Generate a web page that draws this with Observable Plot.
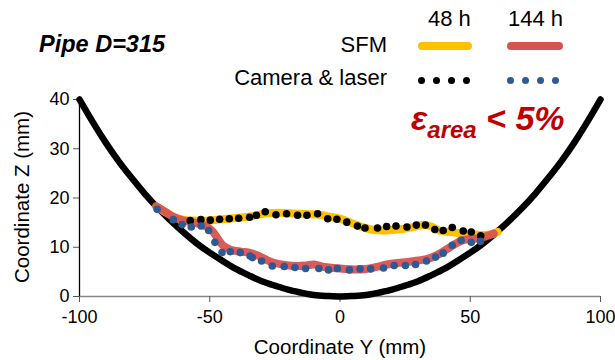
<!DOCTYPE html>
<html>
<head>
<meta charset="utf-8">
<script src="https://cdn.jsdelivr.net/npm/d3@7"></script>
<script src="https://cdn.jsdelivr.net/npm/@observablehq/plot@0.6"></script>
<style>
  html, body { margin: 0; padding: 0; background: #fff; }
  #wrap { position: relative; width: 615px; height: 360px; font-family: "Liberation Sans", Arial, sans-serif; color: #000; overflow: hidden; }
  #chart { position: absolute; left: 0; top: 0; }
  .t { position: absolute; white-space: nowrap; line-height: 1; }
  .bar { position: absolute; height: 8px; border-radius: 4px; }
  .dot { position: absolute; width: 7px; height: 7px; border-radius: 50%; }
</style>
</head>
<body>
<div id="wrap">
  <div id="chart"></div>
  <div class="t" style="left:39px; top:33px; font-size:23.5px; font-weight:bold; font-style:italic;">Pipe D=315</div>
  <div class="t" style="left:428px; top:8px; font-size:22px;">48 h</div>
  <div class="t" style="left:508px; top:8px; font-size:22px;">144 h</div>
  <div class="t" style="right:228px; top:34px; font-size:22px;">SFM</div>
  <div class="t" style="right:228px; top:67px; font-size:22px;">Camera &amp; laser</div>
  <div class="bar" style="left:418px; top:42px; width:54px; background:#FFC000;"></div>
  <div class="bar" style="left:507px; top:42px; width:56px; background:#D95252;"></div>
  <div class="dot" style="left:418px; top:77px; background:#000;"></div>
  <div class="dot" style="left:433px; top:77px; background:#000;"></div>
  <div class="dot" style="left:448px; top:77px; background:#000;"></div>
  <div class="dot" style="left:463px; top:77px; background:#000;"></div>
  <div class="dot" style="left:507px; top:77px; background:#2E5A94;"></div>
  <div class="dot" style="left:522px; top:77px; background:#2E5A94;"></div>
  <div class="dot" style="left:537px; top:77px; background:#2E5A94;"></div>
  <div class="dot" style="left:552px; top:77px; background:#2E5A94;"></div>
  <div class="t" style="left:411px; top:101px; font-size:34px; font-weight:bold; font-style:italic; color:#C00000;">ε<span style="font-size:24px; position:relative; top:8px;">area</span> &lt; 5%</div>
  <div class="t" style="left:0; width:680px; top:337px; font-size:20.5px; text-align:center;">Coordinate Y (mm)</div>
  <div class="t" style="left:22px; top:197px; font-size:20.5px; transform: translate(-50%,-50%) rotate(-90deg);">Coordinate Z (mm)</div>
</div>
<script>
// Pipe wall (D=315)
const pipeY = [-100,-95,-90,-85,-80,-75,-70,-65,-60,-55,-50,-45,-40,-35,-30,-25,-20,-15,-10,-5,0,5,10,15,20,25,30,35,40,45,50,55,60,65,70,75,80,85,90,95,100];
const pipeZ = [40.0,35.5,31.3,27.5,24.1,20.9,18.0,15.4,13.0,10.8,8.9,7.2,5.6,4.3,3.1,2.2,1.4,0.8,0.3,0.1,0,0.1,0.3,0.8,1.4,2.2,3.1,4.3,5.6,7.2,8.9,10.8,13.0,15.4,18.0,20.9,24.1,27.5,31.3,35.5,40.0];

// SFM 48 h
const sfm48Y = [-70.5,-67,-63,-59,-55,-51,-47,-43,-39,-35,-31,-28,-24,-20,-16,-12,-8,-4,0,4,8,12,16,20,24,28,32,35,38,42,46,50,54,58,60.5];
const sfm48Z = [18.3,17.1,16.0,15.5,15.4,15.4,15.6,15.8,16.0,16.2,16.6,16.9,17.0,16.9,16.8,16.7,16.6,16.2,15.8,15.0,14.2,13.6,13.4,13.5,13.7,14.1,14.5,14.2,13.4,13.1,12.9,12.7,12.5,12.6,13.1];

// SFM 144 h
const sfm144Y = [-70.5,-67,-64,-60,-56,-52,-49,-47,-45,-42,-38,-35,-31,-28,-25,-21,-17,-13,-10,-6,-2,2,6,10,14,18,22,26,30,34,38,41,44,47,50,53,56,59];
const sfm144Z = [18.3,17.2,16.2,15.4,15.0,14.4,13.3,11.8,10.4,9.5,9.1,8.9,8.2,7.4,6.8,6.4,6.2,6.3,6.5,6.0,5.8,5.6,5.5,5.6,6.0,6.5,6.8,7.0,7.3,7.7,8.6,9.6,10.6,11.4,11.7,11.8,12.2,12.8];

// Camera & laser 48 h
const cam48Y = [-57.5,-53.4,-49.8,-46.2,-42.5,-38.9,-34.7,-32.1,-28.7,-24.6,-20.5,-16.3,-12.7,-8.6,-4.7,-1.2,2.6,6.7,9.6,14.4,17.9,21.5,25.7,29.3,32.8,36.4,39.6,43.1,47.3,50.4,54.0];
const cam48Z = [15.4,15.6,15.5,15.7,15.8,15.9,16.1,16.5,17.2,16.6,16.8,16.5,16.5,16.8,15.8,15.7,15.1,14.3,13.9,13.9,14.2,14.3,14.1,14.5,14.5,13.6,13.4,14.0,13.3,13.1,12.3];

// Camera & laser 144 h
const cam144Y = [-70.2,-64,-60.6,-57.1,-53.3,-50.4,-48,-45.3,-42.1,-38.3,-34.5,-33.6,-30.1,-26,-21.4,-17.3,-13.2,-8.1,-4.4,-1.0,3.6,7.7,11.8,16.7,20.8,25.1,29.0,33.2,36.7,39.6,43.1,46.5,50.4,53.9];
const cam144Z = [17.7,15.6,14.6,14.1,14.3,13.4,11.0,8.9,9.1,8.9,8.2,7.9,7.2,6.2,6.1,5.9,5.7,5.7,5.4,5.7,5.4,5.6,5.6,5.8,6.3,6.3,6.5,7.2,8.0,8.8,10.4,11.4,11.0,11.2];

const xTicks = [-100,-50,0,50,100];
const yTicks = [0,10,20,30,40];

const zip = (a, b) => a.map((v, i) => ({y: v, z: b[i]}));
const pipe = zip(pipeY, pipeZ);
const sfm48 = zip(sfm48Y, sfm48Z);
const sfm144 = zip(sfm144Y, sfm144Z);
const cam48 = zip(cam48Y, cam48Z);
const cam144 = zip(cam144Y, cam144Z);

const chart = Plot.plot({
  width: 615,
  height: 360,
  marginLeft: 79,
  marginRight: 15,
  marginTop: 99,
  marginBottom: 64,
  style: {fontFamily: "'Liberation Sans', Arial, sans-serif", fontSize: "18px", color: "#000", background: "transparent", overflow: "visible"},
  x: {domain: [-100, 100]},
  y: {domain: [0, 40]},
  marks: [
    Plot.ruleY([0], {stroke: "#868686", strokeWidth: 1.3}),
    Plot.ruleX([-100], {stroke: "#000", strokeWidth: 1.3}),
    Plot.axisX({ticks: xTicks, tickSize: 6, tickPadding: 8, tickFormat: d => String(d), label: null, stroke: "#555", fontSize: 18}),
    Plot.axisY({ticks: yTicks, tickSize: 6, tickPadding: 4, label: null, stroke: "#555", fontSize: 18}),
    Plot.line(pipe, {x: "y", y: "z", stroke: "#000", strokeWidth: 6.5, curve: "natural"}),
    Plot.line(sfm48, {x: "y", y: "z", stroke: "#FFC000", strokeWidth: 8, curve: "catmull-rom", strokeLinecap: "round", strokeLinejoin: "round"}),
    Plot.line(sfm144, {x: "y", y: "z", stroke: "#D95252", strokeWidth: 8, curve: "catmull-rom", strokeOpacity: 0.95, strokeLinecap: "round", strokeLinejoin: "round"}),
    Plot.dot(cam48, {x: "y", y: "z", r: 3.8, fill: "#000", stroke: "none"}),
    Plot.dot(cam144, {x: "y", y: "z", r: 3.8, fill: "#2E5A94", stroke: "none"})
  ]
});
document.getElementById("chart").appendChild(chart);
</script>
</body>
</html>
